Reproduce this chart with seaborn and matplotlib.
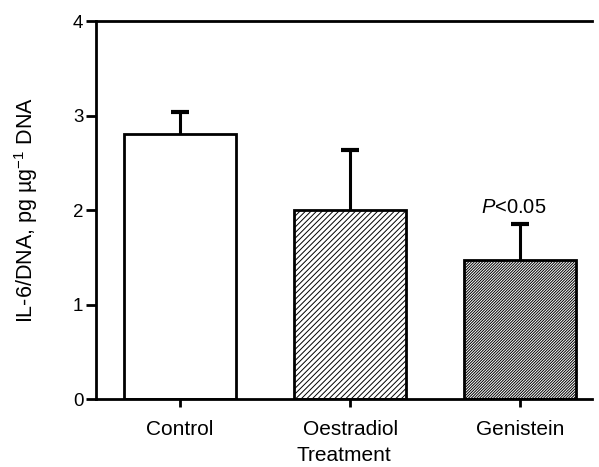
import numpy as np
import pandas as pd
import matplotlib
matplotlib.use('Agg')
import matplotlib.pyplot as plt
import seaborn as sns

# data
treatments = ['Control', 'Oestradiol', 'Genistein']
means = [2.80, 2.00, 1.47]
sem_up = [0.24, 0.63, 0.38]
hatches = ['//////', '////////////']

df = pd.DataFrame({'Treatment': treatments, 'IL6': means})

sns.set_style('white')
plt.rcParams['font.family'] = ['Liberation Sans', 'DejaVu Sans']
plt.rcParams['mathtext.fontset'] = 'custom'
plt.rcParams['mathtext.rm'] = 'Liberation Sans'
plt.rcParams['mathtext.it'] = 'Liberation Sans:italic'
plt.rcParams['text.color'] = 'black'
plt.rcParams['axes.labelcolor'] = 'black'
plt.rcParams['hatch.linewidth'] = 0.7

fig = plt.figure(figsize=(5.99, 4.67), dpi=100)
ax = fig.add_axes([0.160, 0.1456, 0.828, 0.8094])

sns.barplot(data=df, x='Treatment', y='IL6', color='white', errorbar=None,
            width=0.66, edgecolor='black', linewidth=2.0, ax=ax, zorder=2)

for patch, h in zip(ax.patches[1:], hatches):
    patch.set_hatch(h)

# upward-only error bars with a cap at the top
x = np.arange(len(treatments))
tops = np.array(means) + np.array(sem_up)
ax.vlines(x, means, tops, color='black', linewidth=2.2, zorder=1)
ax.plot(x, tops, ls='none', marker='_', markersize=13, mew=3, color='black', zorder=1)

ax.text(1.96, 1.93, '$P$<0.05', ha='center', va='bottom', fontsize=14.5)

ax.set_ylim(0, 4)
ax.set_xlim(-0.494, 2.42)
ax.set_yticks([0, 1, 2, 3, 4])

for side in ['left', 'bottom', 'top']:
    ax.spines[side].set_linewidth(2.0)
    ax.spines[side].set_color('black')
ax.spines['right'].set_visible(False)

ax.tick_params(axis='both', direction='out', width=2.0, colors='black')
ax.tick_params(axis='y', length=7, left=True, labelsize=13.5, pad=2)
ax.tick_params(axis='x', length=6, bottom=True, labelsize=15, pad=9)

ax.set_xlabel('Treatment', fontsize=15, labelpad=5)
ax.set_ylabel('IL-6/DNA, pg \u00b5g$^{-1}$ DNA', fontsize=15.5, labelpad=24)

fig.savefig('out.png', dpi=100)
